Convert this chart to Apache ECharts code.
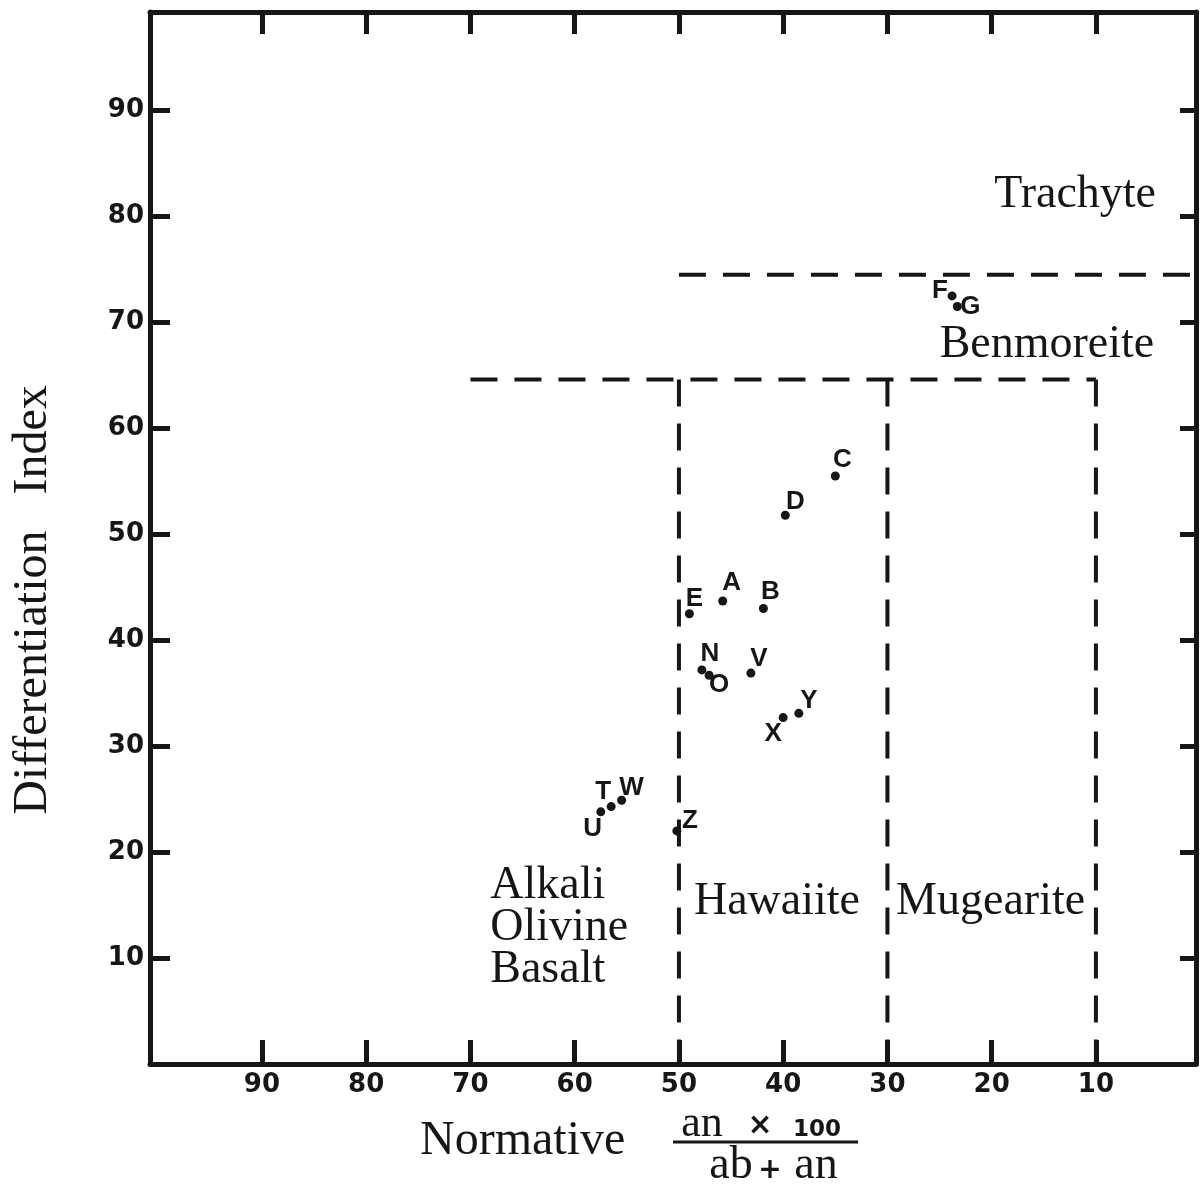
<!DOCTYPE html>
<html>
<head>
<meta charset="utf-8">
<script src="https://cdn.jsdelivr.net/npm/echarts@6/dist/echarts.min.js"></script>
<style>html,body{margin:0;padding:0;background:#fff;}#c{width:1200px;height:1185px;}</style>
</head>
<body>
<div id="c"></div>
<script>
// ---- data ----
const xTicks = [10, 20, 30, 40, 50, 60, 70, 80, 90];
const yTicks = [10, 20, 30, 40, 50, 60, 70, 80, 90];
const sampleIds = ['A','B','C','D','E','F','G','N','O','T','U','V','W','X','Y','Z'];
const normativeAn = [45.8, 41.9, 35.0, 39.8, 49.0, 23.8, 23.3, 47.8, 47.1, 56.5, 57.5, 43.1, 55.5, 40.0, 38.5, 50.2];
const diffIndex  = [43.7, 43.0, 55.5, 51.8, 42.5, 72.5, 71.5, 37.2, 36.7, 24.3, 23.8, 36.9, 24.9, 32.7, 33.1, 22.0];
// field boundaries (dashed): start/end in data units
const boundaryX = [[50, 0.4], [70, 10], [50, 50], [30, 30], [10, 10]];
const boundaryY = [[74.5, 74.5], [64.6, 64.6], [64.6, 0], [64.6, 0], [64.6, 0]];
// field names and anchor positions (data units)
const fieldNames = ['Trachyte', 'Benmoreite', 'Hawaiite', 'Mugearite', 'Alkali\nOlivine\nBasalt'];
const fieldX = [12.0, 14.7, 40.6, 20.1, 68.1];
const fieldY = [82.0, 67.9, 15.3, 15.3, 12.8];

// ---- styling (label offsets in px) ----
const labelOffset = {
  A:[9,-18], B:[7,-17], C:[7,-16], D:[10,-13], E:[5,-15], F:[-12,-5], G:[13,0],
  N:[8,-16], O:[10,10], T:[-8,-15], U:[-8,17], V:[8,-14], W:[10,-12], X:[-10,16], Y:[10,-13], Z:[13,-10]
};
const INK = '#161616';
const SERIF = '"Liberation Serif", "DejaVu Serif", serif';
const BOLDSANS = '"DejaVu Sans", sans-serif';

const chart = echarts.init(document.getElementById('c'), null, {renderer: 'canvas'});

const pts = sampleIds.map((id, i) => ({
  name: id,
  value: [normativeAn[i], diffIndex[i]],
  label: {offset: labelOffset[id]}
}));

const boundarySeries = boundaryX.map((bx, i) => ({
  type: 'line', xAxisIndex: 0, yAxisIndex: 0, symbol: 'none', silent: true,
  data: [[bx[0], boundaryY[i][0]], [bx[1], boundaryY[i][1]]],
  lineStyle: {color: INK, width: 4, type: [27, 17], cap: 'butt', opacity: 1},
  z: 2
}));

const fieldData = fieldNames.map((n, i) => ({
  name: n, value: [fieldX[i], fieldY[i]],
  label: n.indexOf('\n') >= 0 ? {align: 'left', position: 'inside'} : {}
}));

const axisLineStyle = {color: INK, width: 5};
function xAxisDef(pos, tickLen, showLabel) {
  return {
    type: 'value', position: pos, inverse: true, min: 0.4, max: 100.74,
    axisLine: {show: true, onZero: false, lineStyle: axisLineStyle},
    axisTick: {show: true, inside: true, length: tickLen, customValues: xTicks, lineStyle: {color: INK, width: 5}},
    axisLabel: {show: showLabel, customValues: xTicks, margin: 8, color: INK,
      fontFamily: BOLDSANS, fontWeight: 'bold', fontSize: 26},
    splitLine: {show: false}
  };
}
function yAxisDef(pos, tickLen, showLabel) {
  return {
    type: 'value', position: pos, min: 0, max: 99.3,
    axisLine: {show: true, onZero: false, lineStyle: axisLineStyle},
    axisTick: {show: true, inside: true, length: tickLen, customValues: yTicks, lineStyle: {color: INK, width: 5}},
    axisLabel: {show: showLabel, customValues: yTicks, margin: 6, color: INK,
      fontFamily: BOLDSANS, fontWeight: 'bold', fontSize: 26},
    splitLine: {show: false}
  };
}

chart.setOption({
  backgroundColor: '#ffffff',
  animation: false,
  grid: {left: 150, right: 4, top: 12, bottom: 121, containLabel: false},
  xAxis: [xAxisDef('bottom', 24, true), xAxisDef('top', 22, false)],
  yAxis: [yAxisDef('left', 20, true), yAxisDef('right', 16, false)],
  series: boundarySeries.concat([
    {
      type: 'scatter', xAxisIndex: 0, yAxisIndex: 0, symbol: 'circle', symbolSize: 9,
      itemStyle: {color: INK, opacity: 1}, data: pts, z: 5,
      label: {show: true, formatter: '{b}', position: 'inside', align: 'center', verticalAlign: 'middle',
        color: INK, opacity: 1, fontFamily: '"Liberation Sans Narrow", "Liberation Sans", sans-serif',
        fontWeight: 'bold', fontSize: 26}
    },
    {
      type: 'scatter', xAxisIndex: 0, yAxisIndex: 0, symbolSize: 0, silent: true,
      itemStyle: {opacity: 1},
      data: fieldData, z: 4,
      label: {show: true, formatter: '{b}', position: 'inside', align: 'center', verticalAlign: 'middle',
        color: INK, opacity: 1, fontFamily: SERIF, fontSize: 46, lineHeight: 42}
    }
  ]),
  graphic: [
    {type: 'text', rotation: Math.PI / 2, x: 33, y: 600,
      style: {text: 'Differentiation   Index', font: '48px ' + SERIF, fill: INK, align: 'center', verticalAlign: 'middle'}},
    {type: 'text', x: 420, y: 1141,
      style: {text: 'Normative', font: '48px ' + SERIF, fill: INK, align: 'left', verticalAlign: 'middle'}},
    {type: 'text', x: 702, y: 1124,
      style: {text: 'an', font: '44px ' + SERIF, fill: INK, align: 'center', verticalAlign: 'middle'}},
    {type: 'text', x: 760, y: 1126,
      style: {text: '×', font: 'bold 30px ' + BOLDSANS, fill: INK, align: 'center', verticalAlign: 'middle'}},
    {type: 'text', x: 817, y: 1130,
      style: {text: '100', font: 'bold 23px ' + BOLDSANS, fill: INK, align: 'center', verticalAlign: 'middle'}},
    {type: 'line', shape: {x1: 673, y1: 1142, x2: 858, y2: 1142}, style: {stroke: INK, lineWidth: 3}},
    {type: 'text', x: 731, y: 1166,
      style: {text: 'ab', font: '46px ' + SERIF, fill: INK, align: 'center', verticalAlign: 'middle'}},
    {type: 'text', x: 770, y: 1171,
      style: {text: '+', font: 'bold 28px ' + BOLDSANS, fill: INK, align: 'center', verticalAlign: 'middle'}},
    {type: 'text', x: 816, y: 1166,
      style: {text: 'an', font: '46px ' + SERIF, fill: INK, align: 'center', verticalAlign: 'middle'}}
  ]
});
</script>
</body>
</html>
